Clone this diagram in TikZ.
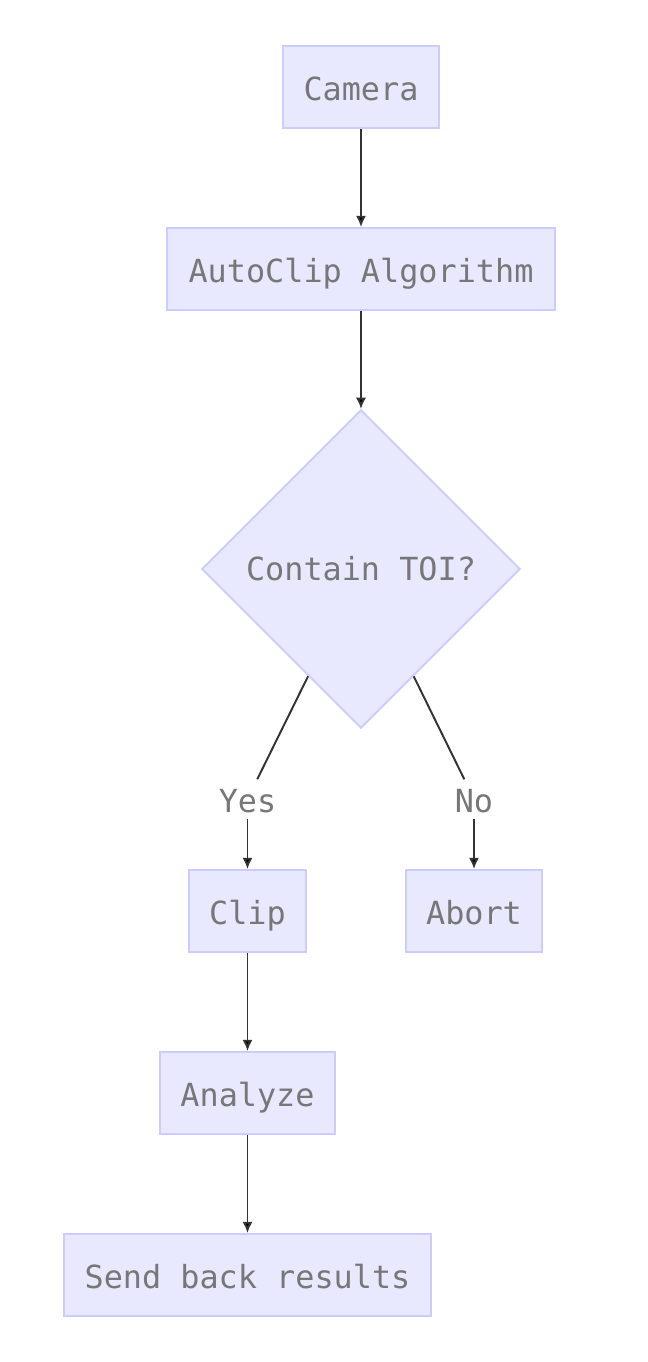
\documentclass[tikz,border=0pt]{standalone}
\usepackage{fontspec}
\setmonofont{DejaVu Sans Mono}
\usetikzlibrary{shapes.geometric,arrows.meta}
\definecolor{boxfill}{HTML}{E8E8FF}
\definecolor{boxline}{HTML}{CCCCFF}
\definecolor{txtgray}{HTML}{777777}
\definecolor{edgeline}{HTML}{333333}
\begin{document}
\begin{tikzpicture}[x=0.01cm, y=-0.01cm,
    box/.style={draw=boxline, fill=boxfill, line width=0.55pt, text=txtgray,
        font=\ttfamily\fontsize{9.05pt}{11pt}\selectfont, minimum height=0.82cm, inner sep=0pt,
        text height=0.85em, text depth=0.07em},
    decision/.style={diamond, aspect=1, draw=boxline, fill=boxfill, line width=0.55pt,
        text=txtgray, font=\ttfamily\fontsize{9.05pt}{11pt}\selectfont,
        minimum width=3.18cm, minimum height=3.18cm, inner sep=0pt},
    edgelabel/.style={text=txtgray, font=\ttfamily\fontsize{9.05pt}{11pt}\selectfont,
        minimum height=0.38cm, inner sep=0pt, text height=0.85em, text depth=0.07em},
    flow/.style={draw=edgeline, line width=0.55pt, -{Latex[length=3.2pt, width=2.9pt, fill=black]}},
    link/.style={draw=edgeline, line width=0.55pt}]

    % Fix the page size
    \useasboundingbox (0,0) rectangle (648,1362);

    % Boxes
    \node[box, minimum width=1.56cm] (camera) at (361,87) {Camera};
    \node[box, minimum width=3.87cm] (autoclip) at (361,269) {AutoClip Algorithm};
    \node[decision] (toi) at (361,569) {Contain TOI?};
    \node[box, minimum width=1.17cm] (clip) at (247.5,911) {Clip};
    \node[box, minimum width=1.36cm] (abort) at (474,911) {Abort};
    \node[box, minimum width=1.75cm] (analyze) at (247.5,1093) {Analyze};
    \node[box, minimum width=3.67cm] (results) at (247.5,1275) {Send back results};

    % Edge labels
    \node[edgelabel] (yes) at (247.5,799) {Yes};
    \node[edgelabel] (no) at (474,799) {No};

    % Connectors
    \draw[flow] (camera) -- (autoclip);
    \draw[flow] (autoclip) -- (toi);
    \draw[link] (toi) -- (yes);
    \draw[flow] (yes) -- (clip);
    \draw[link] (toi) -- (no);
    \draw[flow] (no) -- (abort);
    \draw[flow] (clip) -- (analyze);
    \draw[flow] (analyze) -- (results);

\end{tikzpicture}
\end{document}
